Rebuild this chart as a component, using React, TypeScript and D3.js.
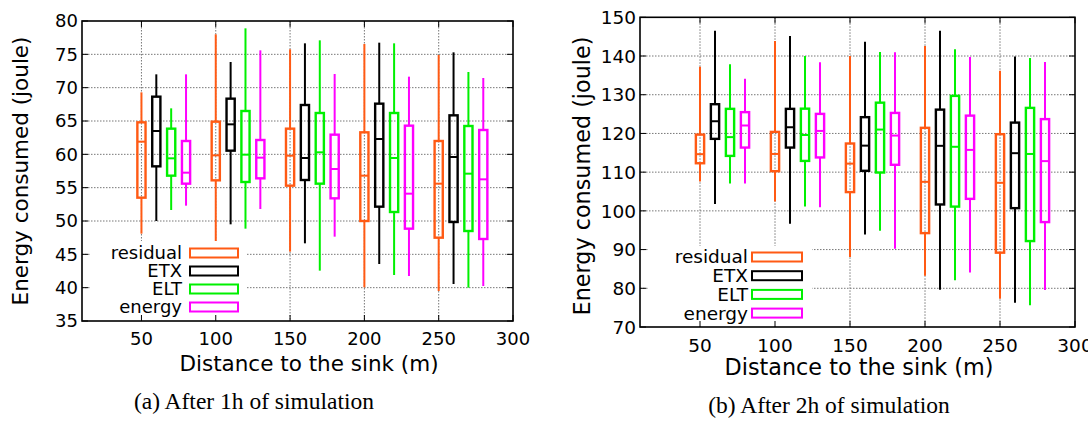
import React from "react";
import * as d3 from "d3";

const distances = [50, 100, 150, 200, 250];
const seriesNames = ["residual", "ETX", "ELT", "energy"];
const seriesColors = ["#ff5a14", "#000000", "#00f000", "#ff00ff"];
const seriesOffsets = [0, 10, 20, 30];
const xTicks = [50, 100, 150, 200, 250, 300];

// [min, q1, median, q3, max] per distance
const residualA = [
  [48.1, 53.5, 61.9, 64.8, 69.3],
  [46.65, 56.1, 59.85, 64.9, 78],
  [45.4, 55.3, 59.8, 63.85, 75.75],
  [40.05, 50, 56.8, 63.3, 76.55],
  [39.5, 47.5, 55.6, 62, 74.9],
];
const etxA = [
  [50, 58.2, 63.5, 68.65, 72],
  [49.5, 60.55, 64.5, 68.35, 73.85],
  [46.65, 56.15, 59.45, 67.4, 76.65],
  [43.55, 52.15, 62.3, 67.6, 76.75],
  [40.55, 49.85, 59.6, 65.85, 75.3],
];
const eltA = [
  [51.65, 56.8, 59.4, 63.85, 66.9],
  [48.85, 55.85, 59.95, 66.5, 78.9],
  [42.55, 55.6, 60.3, 66.2, 77.1],
  [41.9, 51.35, 59.45, 66.2, 76.65],
  [40, 48.5, 57.1, 64.25, 72.35],
];
const energyA = [
  [52.3, 55.6, 57.25, 62, 72],
  [51.8, 56.4, 59.5, 62.15, 75.6],
  [47.65, 53.4, 57.8, 62.95, 72.05],
  [41.75, 48.85, 54.1, 64.3, 71.65],
  [40.25, 47.3, 56.25, 63.65, 71.45],
];

const residualB = [
  [107.6, 112.3, 114.65, 119.7, 137.25],
  [102.4, 110.25, 114.7, 120.4, 143.9],
  [88.05, 104.85, 112.2, 117.4, 140],
  [83.25, 94.25, 107.5, 121.45, 142.6],
  [77.3, 89.2, 107.25, 119.8, 136.2],
];
const etxB = [
  [101.75, 118.6, 123.15, 127.55, 146.55],
  [96.65, 116.35, 121.6, 126.35, 145.2],
  [93.9, 110.35, 116.85, 124.2, 143.7],
  [79.65, 101.65, 116.8, 126.15, 146.55],
  [76.25, 100.7, 114.9, 122.8, 139.85],
];
const eltB = [
  [107.05, 114.2, 119.05, 126.35, 137.85],
  [101.1, 112.9, 119.6, 126.4, 140],
  [94.85, 109.9, 121, 127.95, 141.05],
  [82.1, 101.1, 116.55, 129.7, 141.75],
  [75.6, 92.2, 114.7, 126.6, 139.5],
];
const energyB = [
  [107.05, 116.35, 122.05, 125.5, 134.1],
  [100.95, 113.8, 120.65, 125.05, 138.4],
  [90.2, 111.9, 119.45, 125.3, 141],
  [84.1, 103.1, 115.75, 124.6, 139.75],
  [79.55, 97.1, 112.85, 123.7, 138.45],
];

const yTicksA = [35, 40, 45, 50, 55, 60, 65, 70, 75, 80];
const yTicksB = [70, 80, 90, 100, 110, 120, 130, 140, 150];

const FONT = "DejaVu Sans, sans-serif";

type PanelProps = {
  left: number;
  top: number;
  right: number;
  bottom: number;
  yDomain: [number, number];
  yTicks: number[];
  data: number[][][];
  legendTextX: number;
  legendRectX: number;
  legendRectW: number;
  legendY0: number;
  legendDy: number;
  legendBg: [number, number, number, number];
  yLabelX: number;
  yLabelY: number;
  xLabelX: number;
  xLabelY: number;
  caption: string;
  captionX: number;
  captionY: number;
  fs: number;
  labelFs: number;
  xTickDy: number;
};

function Panel(p: PanelProps) {
  const x = d3.scaleLinear().domain([10, 300]).range([p.left, p.right]);
  const y = d3.scaleLinear().domain(p.yDomain).range([p.bottom, p.top]);
  const boxW = x(15.5) - x(10);
  const tick = 6;
  return (
    <g>
      {/* grid */}
      {p.yTicks
        .filter((t) => t !== p.yDomain[0] && t !== p.yDomain[1])
        .map((t) => (
          <line
            key={"gy" + t}
            x1={p.left}
            x2={p.right}
            y1={y(t)}
            y2={y(t)}
            stroke="#777"
            strokeWidth={1}
            strokeDasharray="1.5,1.5"
          />
        ))}
      {xTicks
        .filter((t) => t < 300)
        .map((t) => (
          <line
            key={"gx" + t}
            x1={x(t)}
            x2={x(t)}
            y1={p.top}
            y2={p.bottom}
            stroke="#777"
            strokeWidth={1}
            strokeDasharray="1.5,1.5"
          />
        ))}
      {/* boxes */}
      {p.data.map((series, si) =>
        series.map((v, di) => {
          const cx = x(distances[di] + seriesOffsets[si]);
          const c = seriesColors[si];
          const [mn, q1, md, q3, mx] = v;
          return (
            <g key={si + "-" + di} stroke={c} fill="none">
              <line x1={cx} x2={cx} y1={y(mx)} y2={y(q3)} strokeWidth={2} />
              <line x1={cx} x2={cx} y1={y(q1)} y2={y(mn)} strokeWidth={2} />
              <rect
                x={cx - boxW / 2}
                y={y(q3)}
                width={boxW}
                height={y(q1) - y(q3)}
                strokeWidth={2.4}
              />
              <line
                x1={cx - boxW / 2}
                x2={cx + boxW / 2}
                y1={y(md)}
                y2={y(md)}
                strokeWidth={2}
              />
            </g>
          );
        })
      )}
      {/* legend */}
      <rect
        x={p.legendBg[0]}
        y={p.legendBg[1]}
        width={p.legendBg[2]}
        height={p.legendBg[3]}
        fill="#fff"
      />
      {seriesNames.map((n, i) => {
        const cy = p.legendY0 + i * p.legendDy;
        return (
          <g key={"lg" + n}>
            <text
              x={p.legendTextX}
              y={cy}
              dy="0.35em"
              textAnchor="end"
              fontFamily={FONT}
              fontSize={p.fs}
              fill="#000"
            >
              {n}
            </text>
            <rect
              x={p.legendRectX}
              y={cy - 4.5}
              width={p.legendRectW}
              height={9}
              fill="none"
              stroke={seriesColors[i]}
              strokeWidth={2}
            />
          </g>
        );
      })}
      {/* ticks */}
      {p.yTicks.map((t) => (
        <g key={"ty" + t}>
          <line x1={p.left} x2={p.left + tick} y1={y(t)} y2={y(t)} stroke="#000" strokeWidth={1} />
          <line x1={p.right - tick} x2={p.right} y1={y(t)} y2={y(t)} stroke="#000" strokeWidth={1} />
          <text
            x={p.left - 4}
            y={y(t)}
            dy="0.36em"
            textAnchor="end"
            fontFamily={FONT}
            fontSize={p.fs}
            fill="#000"
          >
            {t}
          </text>
        </g>
      ))}
      {xTicks.map((t) => (
        <g key={"tx" + t}>
          <line x1={x(t)} x2={x(t)} y1={p.bottom} y2={p.bottom - tick} stroke="#000" strokeWidth={1} />
          <line x1={x(t)} x2={x(t)} y1={p.top} y2={p.top + tick} stroke="#000" strokeWidth={1} />
          <text
            x={x(t)}
            y={p.bottom + p.xTickDy}
            textAnchor="middle"
            fontFamily={FONT}
            fontSize={p.fs}
            fill="#000"
          >
            {t}
          </text>
        </g>
      ))}
      {/* border */}
      <rect
        x={p.left}
        y={p.top}
        width={p.right - p.left}
        height={p.bottom - p.top}
        fill="none"
        stroke="#000"
        strokeWidth={1.6}
      />
      {/* axis labels */}
      <text
        transform={`translate(${p.yLabelX},${p.yLabelY}) rotate(-90)`}
        textAnchor="middle"
        dy="0.35em"
        fontFamily={FONT}
        fontSize={p.labelFs}
        fill="#000"
      >
        Energy consumed (joule)
      </text>
      <text
        x={p.xLabelX}
        y={p.xLabelY}
        textAnchor="middle"
        fontFamily={FONT}
        fontSize={p.labelFs}
        fill="#000"
      >
        Distance to the sink (m)
      </text>
      <text
        x={p.captionX}
        y={p.captionY}
        textAnchor="middle"
        fontFamily="Liberation Serif, serif"
        fontSize={23.5}
        fill="#000"
      >
        {p.caption}
      </text>
    </g>
  );
}

export default function App() {
  return (
    <svg
      width={1088}
      height={421}
      style={{ position: "absolute", left: 0, top: 0, background: "#fff" }}
    >
      <Panel
        left={82}
        top={21}
        right={513}
        bottom={321}
        yDomain={[35, 80]}
        yTicks={yTicksA}
        data={[residualA, etxA, eltA, energyA]}
        legendTextX={182}
        legendRectX={190}
        legendRectW={48}
        legendY0={253}
        legendDy={18}
        legendBg={[90, 241, 157, 79]}
        yLabelX={20}
        yLabelY={171}
        xLabelX={309}
        xLabelY={371}
        caption="(a) After 1h of simulation"
        captionX={254}
        captionY={409}
        fs={18}
        labelFs={21.5}
        xTickDy={24}
      />
      <Panel
        left={640}
        top={17.3}
        right={1075}
        bottom={327}
        yDomain={[70, 150]}
        yTicks={yTicksB}
        data={[residualB, etxB, eltB, energyB]}
        legendTextX={748}
        legendRectX={752}
        legendRectW={50}
        legendY0={257}
        legendDy={18.7}
        legendBg={[648, 246, 164, 80]}
        yLabelX={582}
        yLabelY={176}
        xLabelX={859}
        xLabelY={375}
        caption="(b) After 2h of simulation"
        captionX={829}
        captionY={413}
        fs={18.5}
        labelFs={22.3}
        xTickDy={25}
      />
    </svg>
  );
}
